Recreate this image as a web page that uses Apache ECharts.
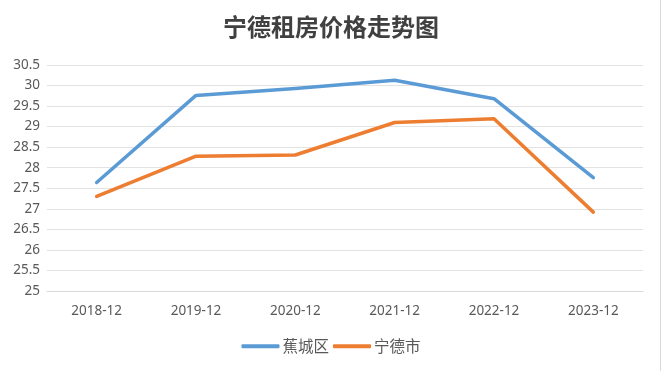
<!DOCTYPE html>
<html><head><meta charset="utf-8">
<script src="https://cdn.jsdelivr.net/npm/echarts@6/dist/echarts.min.js"></script>
<style>html,body{margin:0;padding:0;background:#fff}#c{width:662px;height:371px}</style>
</head><body><div id="c"></div>
<script>
const categories = ['2018-12','2019-12','2020-12','2021-12','2022-12','2023-12'];
const jiaocheng = [27.64, 29.76, 29.93, 30.13, 29.68, 27.76];
const ningde = [27.30, 28.28, 28.31, 29.10, 29.19, 26.92];
const seriesNames = ['蕉城区','宁德市'];
const chart = echarts.init(document.getElementById('c'), null, {renderer:'canvas'});
chart.setOption({
  backgroundColor:'#fff',
  animation:false,
  title:{text:'宁德租房价格走势图',left:'center',top:10,
    textStyle:{fontFamily:'Noto Sans CJK SC',fontSize:24,fontWeight:'bold',color:'#404040'}},
  legend:{bottom:12,left:'center',itemWidth:38,itemHeight:4,itemGap:4,
    icon:'roundRect',
    textStyle:{fontFamily:'Noto Sans CJK SC',fontSize:15.5,color:'#595959',padding:[0,0,0,-2]},
    data:seriesNames},
  grid:{left:47,right:19,top:65,bottom:80},
  xAxis:{type:'category',data:categories,boundaryGap:true,
    axisLine:{lineStyle:{color:'#d9d9d9'}},axisTick:{show:false},
    axisLabel:{color:'#595959',fontSize:13.5,margin:13,fontFamily:'Noto Sans'}},
  yAxis:{type:'value',min:25,max:30.5,interval:0.5,
    axisLine:{show:false},axisTick:{show:false},
    axisLabel:{color:'#595959',fontSize:13.5,margin:7,fontFamily:'Noto Sans'},
    splitLine:{lineStyle:{color:'#e3e3e3'}}},
  series:[
    {name:seriesNames[0],type:'line',data:jiaocheng,symbol:'none',
      lineStyle:{width:3.5,color:'#5B9BD5',cap:'round',join:'round'},itemStyle:{color:'#5B9BD5'}},
    {name:seriesNames[1],type:'line',data:ningde,symbol:'none',
      lineStyle:{width:3.5,color:'#ED7D31',cap:'round',join:'round'},itemStyle:{color:'#ED7D31'}}
  ],
  graphic:[{type:'line',shape:{x1:660.5,y1:0,x2:660.5,y2:371},style:{stroke:'#d9d9d9',lineWidth:1},silent:true}]
});
</script></body></html>
